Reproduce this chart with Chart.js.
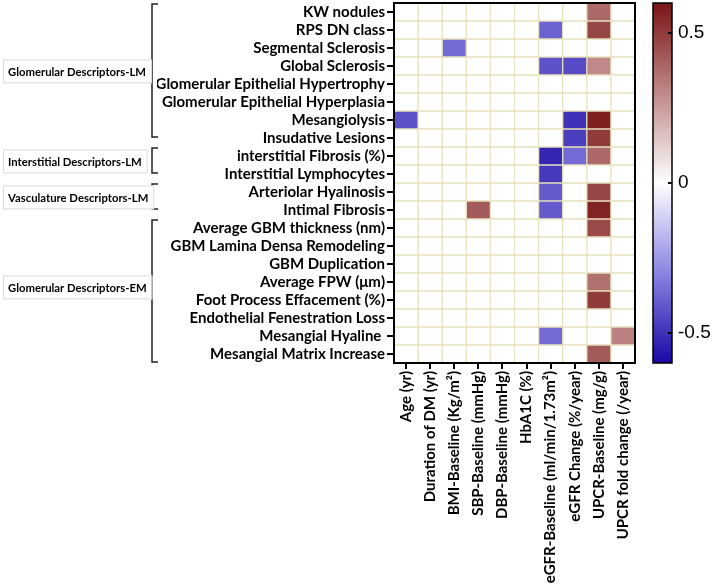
<!DOCTYPE html>
<html>
<head>
<meta charset="utf-8">
<script src="https://cdn.jsdelivr.net/npm/chart.js@4.4.0/dist/chart.umd.min.js"></script>
<style>
  html, body { margin: 0; padding: 0; background: #fff; }
  #wrap { width: 714px; height: 587px; position: relative; }
</style>
</head>
<body>
<div id="wrap"><canvas id="heatmap"></canvas></div>
<script>
// filas (descriptores histologicos)
const rowLabels = [
  "KW nodules", "RPS DN class", "Segmental Sclerosis", "Global Sclerosis",
  "Glomerular Epithelial Hypertrophy", "Glomerular Epithelial Hyperplasia",
  "Mesangiolysis", "Insudative Lesions", "interstitial Fibrosis (%)",
  "Interstitial Lymphocytes", "Arteriolar Hyalinosis", "Intimal Fibrosis",
  "Average GBM thickness (nm)", "GBM Lamina Densa Remodeling", "GBM Duplication",
  "Average FPW (\u03bcm)", "Foot Process Effacement (%)", "Endothelial Fenestration Loss",
  "Mesangial Hyaline ", "Mesangial Matrix Increase"
];

// columnas (variables clinicas)
const colLabels = [
  "Age (yr)", "Duration of DM (yr)", "BMI-Baseline (Kg/m\u00b2)", "SBP-Baseline (mmHg)",
  "DBP-Baseline (mmHg)", "HbA1C (%)", "eGFR-Baseline (ml/min/1.73m\u00b2)",
  "eGFR Change (%/year)", "UPCR-Baseline (mg/g)", "UPCR fold change (/year)"
];

// correlacion por columna, un valor por fila (null = celda vacia)
const age        = [null, null, null, null, null, null, -0.42, null, null, null, null, null, null, null, null, null, null, null, null, null];
const durationDM = [null, null, null, null, null, null, null, null, null, null, null, null, null, null, null, null, null, null, null, null];
const bmi        = [null, null, -0.36, null, null, null, null, null, null, null, null, null, null, null, null, null, null, null, null, null];
const sbp        = [null, null, null, null, null, null, null, null, null, null, null, 0.42, null, null, null, null, null, null, null, null];
const dbp        = [null, null, null, null, null, null, null, null, null, null, null, null, null, null, null, null, null, null, null, null];
const hba1c      = [null, null, null, null, null, null, null, null, null, null, null, null, null, null, null, null, null, null, null, null];
const egfrBase   = [null, -0.38, null, -0.42, null, null, null, null, -0.53, -0.48, -0.40, -0.40, null, null, null, null, null, null, -0.36, null];
const egfrChange = [null, null, null, -0.44, null, null, -0.50, -0.47, -0.36, null, null, null, null, null, null, null, null, null, null, null];
const upcrBase   = [0.38, 0.47, null, 0.30, null, null, 0.57, 0.50, 0.38, null, 0.47, 0.56, 0.46, null, null, 0.36, 0.50, null, null, 0.42];
const upcrFold   = [null, null, null, null, null, null, null, null, null, null, null, null, null, null, null, null, null, null, 0.32, null];

const columnValues = [age, durationDM, bmi, sbp, dbp, hba1c, egfrBase, egfrChange, upcrBase, upcrFold];

// grupos de la izquierda
const groupNames = ["Glomerular Descriptors-LM", "Interstitial Descriptors-LM", "Vasculature Descriptors-LM", "Glomerular Descriptors-EM"];
const groupFirstRow = [0, 8, 10, 12];
const groupLastRow = [7, 9, 11, 19];

// barra de color
const colorbarTicks = [-0.5, 0, 0.5];
const colorMin = -0.6;
const colorMax = 0.6;

const redStops = [[255, 255, 255], [192, 136, 136], [120, 20, 22]];
const blueStops = [[255, 255, 255], [138, 132, 226], [26, 8, 165]];

function mezclar(a, b, t) {
  return a.map((v, i) => Math.round(v + (b[i] - v) * t));
}

function cellColor(v) {
  if (v === null || v === undefined) return '#ffffff';
  const stops = v > 0 ? redStops : blueStops;
  const t = Math.min(Math.abs(v) / colorMax, 1);
  const c = t < 0.5 ? mezclar(stops[0], stops[1], t / 0.5) : mezclar(stops[1], stops[2], (t - 0.5) / 0.5);
  return `rgb(${c[0]},${c[1]},${c[2]})`;
}

const datasets = colLabels.map((col, ci) => ({
  data: rowLabels.map((r, ri) => ({ x: col, y: [ri - 0.5, ri + 0.5] })),
  backgroundColor: columnValues[ci].map(cellColor),
  borderColor: '#e6e1bd',
  borderWidth: 1,
  borderSkipped: false,
  grouped: false,
  categoryPercentage: 1,
  barPercentage: 1
}));

const labelFont = { family: 'Lato', weight: 'bold', size: 15 };

// quita el relleno extra que Chart.js agrega por las etiquetas
function sinRelleno(s) {
  s.paddingTop = 0;
  s.paddingBottom = 0;
  s.paddingLeft = 0;
  s.paddingRight = 0;
}

// dibuja borde, barra de color, corchetes y cajas de grupo
const extras = {
  id: 'extras',
  afterDraw(chart) {
    const ctx = chart.ctx;
    const area = chart.chartArea;
    const y = chart.scales.y;
    const cb = chart.scales.cb;
    ctx.save();

    // borde del area
    ctx.strokeStyle = '#000';
    ctx.lineWidth = 2;
    ctx.strokeRect(area.left, area.top, area.right - area.left, area.bottom - area.top);

    // barra de color
    const cx = area.right + 18, cw = 19;
    const top = cb.getPixelForValue(colorMax), bottom = cb.getPixelForValue(colorMin);
    const grad = ctx.createLinearGradient(0, top, 0, bottom);
    grad.addColorStop(0, 'rgb(' + redStops[2].join(',') + ')');
    grad.addColorStop(0.25, 'rgb(' + redStops[1].join(',') + ')');
    grad.addColorStop(0.5, '#ffffff');
    grad.addColorStop(0.75, 'rgb(' + blueStops[1].join(',') + ')');
    grad.addColorStop(1, 'rgb(' + blueStops[2].join(',') + ')');
    ctx.fillStyle = grad;
    ctx.fillRect(cx, top, cw, bottom - top);
    ctx.lineWidth = 1.5;
    ctx.strokeRect(cx, top, cw, bottom - top);
    ctx.lineWidth = 2;
    colorbarTicks.forEach(v => {
      const py = cb.getPixelForValue(v);
      ctx.beginPath();
      ctx.moveTo(cx + cw - 4, py);
      ctx.lineTo(cx + cw, py);
      ctx.stroke();
    });

    // corchetes
    const bx = y.left - 5;
    ctx.strokeStyle = '#222';
    ctx.lineWidth = 1.5;
    groupNames.forEach((name, i) => {
      const last = i === groupNames.length - 1 ? groupLastRow[i] + 0.5 : groupLastRow[i];
      const y1 = y.getPixelForValue(groupFirstRow[i] - 0.5) + 1;
      const y2 = y.getPixelForValue(last) - 1;
      ctx.beginPath();
      ctx.moveTo(bx + 6, y1);
      ctx.lineTo(bx, y1);
      ctx.lineTo(bx, y2);
      ctx.lineTo(bx + 6, y2);
      ctx.stroke();
    });

    // cajas con nombre del grupo
    ctx.font = 'bold 11.3px Lato';
    ctx.textBaseline = 'middle';
    ctx.textAlign = 'left';
    groupNames.forEach((name, i) => {
      const cy = y.getPixelForValue((groupFirstRow[i] + groupLastRow[i]) / 2 - 0.2);
      const w = ctx.measureText(name).width + 10;
      ctx.fillStyle = '#fff';
      ctx.fillRect(3, cy - 12, w, 24);
      ctx.strokeStyle = '#d9d9d9';
      ctx.lineWidth = 1;
      ctx.strokeRect(3.5, cy - 11.5, w, 23);
      ctx.fillStyle = '#000';
      ctx.fillText(name, 8, cy + 1);
    });
    ctx.restore();
  }
};

new Chart(document.getElementById('heatmap'), {
  type: 'bar',
  data: { labels: colLabels, datasets: datasets },
  options: {
    responsive: true,
    maintainAspectRatio: false,
    animation: false,
    layout: { padding: { left: 157, top: 3, right: 0, bottom: 0 } },
    plugins: { legend: { display: false }, tooltip: { enabled: false } },
    scales: {
      x: {
        type: 'category',
        labels: colLabels,
        offset: true,
        afterFit: s => { s.height = 224; sinRelleno(s); },
        ticks: { minRotation: 90, maxRotation: 90, autoSkip: false, color: '#000', font: labelFont, padding: 2 },
        grid: { drawOnChartArea: false, offset: false, color: '#000', lineWidth: 2, tickLength: 6 },
        border: { color: '#000', width: 2 }
      },
      y: {
        type: 'linear',
        min: -0.5,
        max: 19.5,
        reverse: true,
        afterBuildTicks: s => { s.ticks = rowLabels.map((r, i) => ({ value: i })); },
        afterFit: s => { s.width = 237; sinRelleno(s); },
        ticks: { autoSkip: false, color: '#000', font: labelFont, padding: 2, callback: v => rowLabels[v] },
        grid: { drawOnChartArea: false, color: '#000', lineWidth: 2, tickLength: 7 },
        border: { color: '#000', width: 2 }
      },
      cb: {
        type: 'linear',
        position: 'right',
        min: colorMin,
        max: colorMax,
        afterBuildTicks: s => { s.ticks = colorbarTicks.map(v => ({ value: v })); },
        afterFit: s => { s.width = 79; sinRelleno(s); },
        ticks: { padding: 43, color: '#000', font: { family: 'Liberation Sans', size: 19 }, callback: v => String(v) },
        grid: { display: false, drawTicks: false },
        border: { display: false }
      }
    }
  },
  plugins: [extras]
});
</script>
</body>
</html>
